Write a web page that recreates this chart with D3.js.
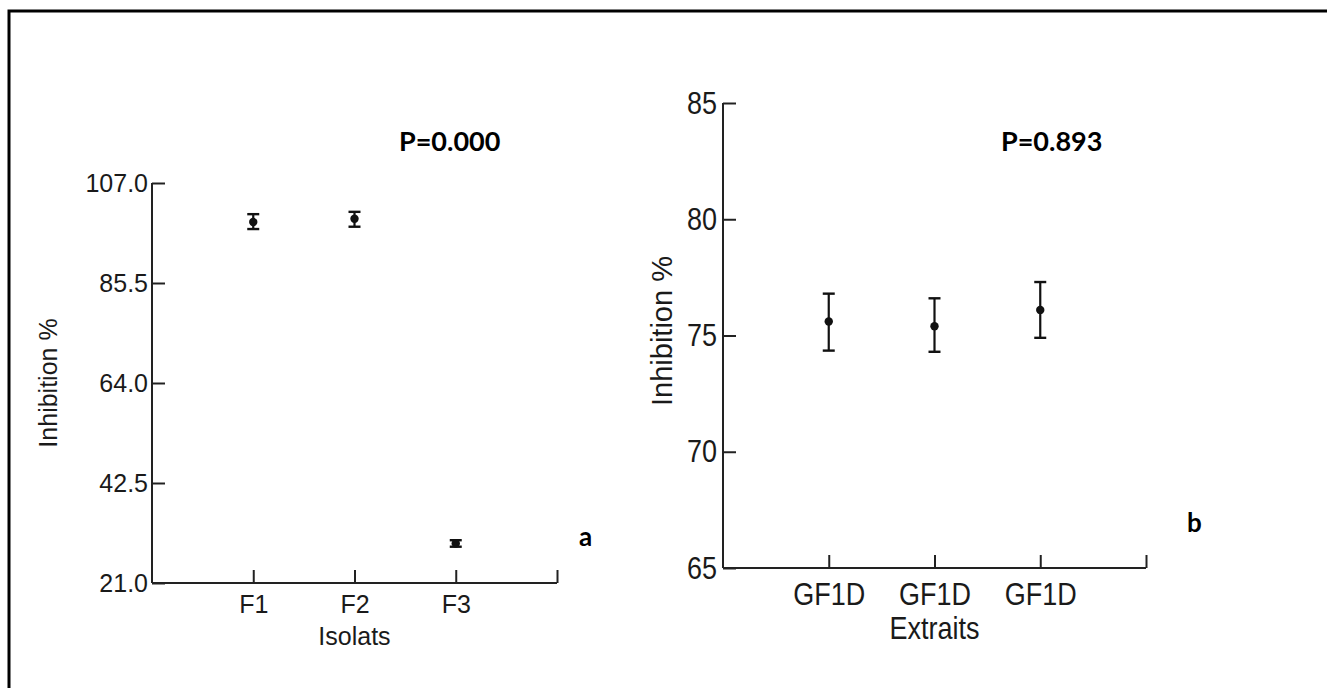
<!DOCTYPE html>
<html>
<head>
<meta charset="utf-8">
<script src="https://cdn.jsdelivr.net/npm/d3@7"></script>
<style>
  body { margin: 0; background: #fff; }
  svg text { font-family: "Liberation Sans", Arial, sans-serif; fill: #1a1a1a; }
  .stretch { transform-box: fill-box; transform-origin: center; transform: scaleY(1.15); }
  .bold { font-family: Lato, "Open Sans", sans-serif !important; font-weight: bold; fill: #000 !important; }
</style>
</head>
<body>
<div class="drawingArea"></div>
<script>
// chart a
var isolats = ["F1", "F2", "F3"];
var isolatMean = [98.6, 99.3, 29.5];
var isolatLow = [97.1, 97.6, 28.8];
var isolatHigh = [100.3, 100.8, 30.2];
var leftTicks = [21.0, 42.5, 64.0, 85.5, 107.0];

// chart b
var extraits = ["GF1D", "GF1D", "GF1D"];
var extraitMean = [75.6, 75.4, 76.1];
var extraitLow = [74.35, 74.3, 74.9];
var extraitHigh = [76.8, 76.6, 77.3];
var rightTicks = [65, 70, 75, 80, 85];

var width = 1327, height = 688;

var svg = d3.select(".drawingArea")
    .append("svg")
    .attr("width", width)
    .attr("height", height);

// frame round both charts (runs off the right and bottom)
svg.append("rect")
    .attr("x", 9).attr("y", 11)
    .attr("width", width + 20).attr("height", height + 20)
    .attr("fill", "none").attr("stroke", "#000").attr("stroke-width", 3);

function drawPanel(opt) {
    var x = d3.scaleLinear().domain([0, 4]).range([opt.x0, opt.x1]);
    var y = d3.scaleLinear().domain(opt.domain).range([opt.y0, opt.y1]);
    var g = svg.append("g");

    // y axis, ticks pointing inward
    var yAxis = d3.axisLeft(y).tickValues(opt.ticks).tickSize(-13).tickPadding(opt.ypad)
        .tickFormat(opt.fmt);
    var ya = g.append("g").attr("transform", "translate(" + opt.x0 + ",0)").call(yAxis);
    ya.select(".domain").attr("d", "M0," + opt.y1 + "V" + opt.y0);

    // x axis, ticks pointing up
    var xAxis = d3.axisBottom(x).tickValues([1, 2, 3, 4]).tickSize(-13).tickPadding(opt.xpad)
        .tickFormat(function(d) { return d < 4 ? opt.cats[d - 1] : ""; });
    var xa = g.append("g").attr("transform", "translate(0," + opt.y0 + ")").call(xAxis);
    xa.select(".domain").attr("d", "M" + opt.x0 + ",0H" + opt.x1);

    [ya, xa].forEach(function(a) {
        a.selectAll("path, line").attr("stroke", "#222").attr("stroke-width", 2);
        a.selectAll("text").attr("fill", "#1a1a1a")
            .style("font-family", "'Liberation Sans', Arial, sans-serif")
            .style("font-size", opt.fs + "px")
            .attr("class", opt.stretch ? "stretch" : null);
    });

    // error bars
    var idx = d3.range(opt.cats.length);
    g.selectAll(".err").data(idx).enter().append("line")
        .attr("x1", function(i) { return x(i + 1); })
        .attr("x2", function(i) { return x(i + 1); })
        .attr("y1", function(i) { return y(opt.low[i]); })
        .attr("y2", function(i) { return y(opt.high[i]); })
        .attr("stroke", "#111").attr("stroke-width", 2.2);
    [opt.low, opt.high].forEach(function(arr) {
        g.selectAll(null).data(idx).enter().append("line")
            .attr("x1", function(i) { return x(i + 1) - 6; })
            .attr("x2", function(i) { return x(i + 1) + 6; })
            .attr("y1", function(i) { return y(arr[i]); })
            .attr("y2", function(i) { return y(arr[i]); })
            .attr("stroke", "#111").attr("stroke-width", 2.4);
    });
    g.selectAll("circle").data(idx).enter().append("circle")
        .attr("cx", function(i) { return x(i + 1); })
        .attr("cy", function(i) { return y(opt.mean[i]); })
        .attr("r", 4.2).attr("fill", "#111");

    // axis titles
    g.append("text")
        .attr("transform", "translate(" + opt.ytx + "," + opt.yty + ") rotate(-90)")
        .attr("text-anchor", "middle")
        .style("font-size", opt.yfs + "px")
        .text("Inhibition %");
    g.append("text")
        .attr("x", x(2)).attr("y", opt.xty)
        .attr("text-anchor", "middle")
        .attr("class", opt.stretch ? "stretch" : null)
        .style("font-size", opt.fs + "px")
        .text(opt.xtitle);

    g.append("text").attr("class", "bold")
        .attr("x", opt.px).attr("y", 151)
        .style("font-size", "27px")
        .text(opt.ptext);
    g.append("text").attr("class", "bold")
        .attr("x", opt.lx).attr("y", opt.ly)
        .style("font-size", "26px")
        .text(opt.letter);
}

drawPanel({
    cats: isolats, mean: isolatMean, low: isolatLow, high: isolatHigh,
    ticks: leftTicks, domain: [21, 107], fmt: d3.format(".1f"),
    x0: 152, x1: 557, y0: 583, y1: 183, fs: 25, yfs: 25, xpad: 12, ypad: 4, stretch: false,
    ytx: 57, yty: 383, xty: 645, xtitle: "Isolats",
    px: 399, ptext: "P=0.000", lx: 579, ly: 546, letter: "a"
});

drawPanel({
    cats: extraits, mean: extraitMean, low: extraitLow, high: extraitHigh,
    ticks: rightTicks, domain: [65, 85], fmt: d3.format("d"),
    x0: 723, x1: 1146, y0: 568, y1: 103, fs: 27, yfs: 29, xpad: 16, ypad: 6, stretch: true,
    ytx: 672, yty: 331, xty: 638, xtitle: "Extraits",
    px: 1001, ptext: "P=0.893", lx: 1187, ly: 532, letter: "b"
});
</script>
</body>
</html>
